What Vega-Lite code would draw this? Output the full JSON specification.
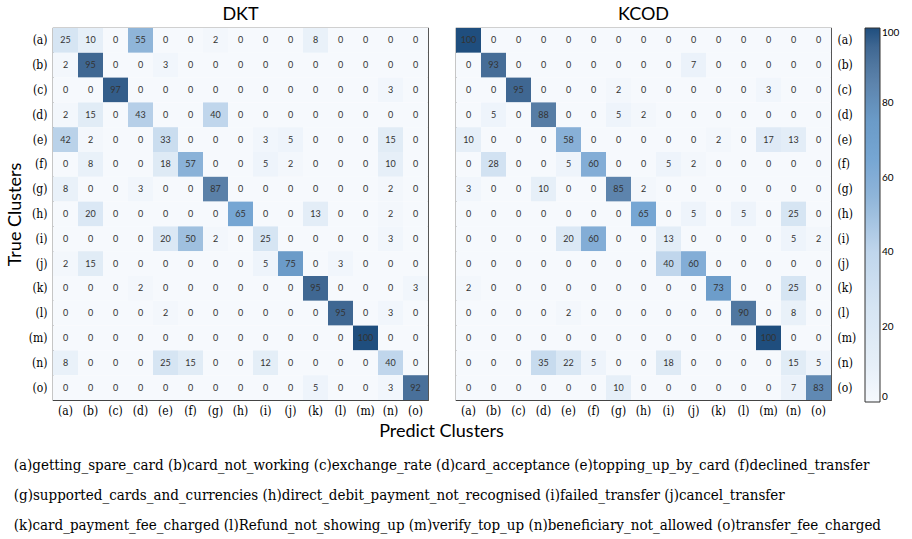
{
"$schema":"https://vega.github.io/schema/vega-lite/v6.json",
"background":"white",
"padding":{"left":5,"top":5,"right":5,"bottom":12},
"bounds":"flush",
"spacing":28,
"title":{"text":["(a)getting_spare_card  (b)card_not_working  (c)exchange_rate  (d)card_acceptance  (e)topping_up_by_card  (f)declined_transfer","(g)supported_cards_and_currencies  (h)direct_debit_payment_not_recognised  (i)failed_transfer  (j)cancel_transfer","(k)card_payment_fee_charged  (l)Refund_not_showing_up  (m)verify_top_up   (n)beneficiary_not_allowed  (o)transfer_fee_charged"],"orient":"bottom","anchor":"start","frame":"bounds","font":"DejaVu Serif Condensed, DejaVu Serif","fontSize":15,"fontWeight":"normal","lineHeight":30,"offset":17,"dx":8,"color":"black"},
"config":{"view":{"stroke":"#444","strokeWidth":1.2},"axis":{"grid":false,"ticks":false,"domain":false,"labelFont":"DejaVu Serif Condensed, DejaVu Serif","labelFontSize":12,"labelColor":"black","titleFont":"Lato","titleFontSize":18,"titleFontWeight":"normal","titleColor":"black"}},
"datasets":{
"dkt":[
{"t":"(a)","p":"(a)","v":25},{"t":"(a)","p":"(b)","v":10},{"t":"(a)","p":"(c)","v":0},{"t":"(a)","p":"(d)","v":55},{"t":"(a)","p":"(e)","v":0},{"t":"(a)","p":"(f)","v":0},{"t":"(a)","p":"(g)","v":2},{"t":"(a)","p":"(h)","v":0},{"t":"(a)","p":"(i)","v":0},{"t":"(a)","p":"(j)","v":0},{"t":"(a)","p":"(k)","v":8},{"t":"(a)","p":"(l)","v":0},{"t":"(a)","p":"(m)","v":0},{"t":"(a)","p":"(n)","v":0},{"t":"(a)","p":"(o)","v":0},
{"t":"(b)","p":"(a)","v":2},{"t":"(b)","p":"(b)","v":95},{"t":"(b)","p":"(c)","v":0},{"t":"(b)","p":"(d)","v":0},{"t":"(b)","p":"(e)","v":3},{"t":"(b)","p":"(f)","v":0},{"t":"(b)","p":"(g)","v":0},{"t":"(b)","p":"(h)","v":0},{"t":"(b)","p":"(i)","v":0},{"t":"(b)","p":"(j)","v":0},{"t":"(b)","p":"(k)","v":0},{"t":"(b)","p":"(l)","v":0},{"t":"(b)","p":"(m)","v":0},{"t":"(b)","p":"(n)","v":0},{"t":"(b)","p":"(o)","v":0},
{"t":"(c)","p":"(a)","v":0},{"t":"(c)","p":"(b)","v":0},{"t":"(c)","p":"(c)","v":97},{"t":"(c)","p":"(d)","v":0},{"t":"(c)","p":"(e)","v":0},{"t":"(c)","p":"(f)","v":0},{"t":"(c)","p":"(g)","v":0},{"t":"(c)","p":"(h)","v":0},{"t":"(c)","p":"(i)","v":0},{"t":"(c)","p":"(j)","v":0},{"t":"(c)","p":"(k)","v":0},{"t":"(c)","p":"(l)","v":0},{"t":"(c)","p":"(m)","v":0},{"t":"(c)","p":"(n)","v":3},{"t":"(c)","p":"(o)","v":0},
{"t":"(d)","p":"(a)","v":2},{"t":"(d)","p":"(b)","v":15},{"t":"(d)","p":"(c)","v":0},{"t":"(d)","p":"(d)","v":43},{"t":"(d)","p":"(e)","v":0},{"t":"(d)","p":"(f)","v":0},{"t":"(d)","p":"(g)","v":40},{"t":"(d)","p":"(h)","v":0},{"t":"(d)","p":"(i)","v":0},{"t":"(d)","p":"(j)","v":0},{"t":"(d)","p":"(k)","v":0},{"t":"(d)","p":"(l)","v":0},{"t":"(d)","p":"(m)","v":0},{"t":"(d)","p":"(n)","v":0},{"t":"(d)","p":"(o)","v":0},
{"t":"(e)","p":"(a)","v":42},{"t":"(e)","p":"(b)","v":2},{"t":"(e)","p":"(c)","v":0},{"t":"(e)","p":"(d)","v":0},{"t":"(e)","p":"(e)","v":33},{"t":"(e)","p":"(f)","v":0},{"t":"(e)","p":"(g)","v":0},{"t":"(e)","p":"(h)","v":0},{"t":"(e)","p":"(i)","v":3},{"t":"(e)","p":"(j)","v":5},{"t":"(e)","p":"(k)","v":0},{"t":"(e)","p":"(l)","v":0},{"t":"(e)","p":"(m)","v":0},{"t":"(e)","p":"(n)","v":15},{"t":"(e)","p":"(o)","v":0},
{"t":"(f)","p":"(a)","v":0},{"t":"(f)","p":"(b)","v":8},{"t":"(f)","p":"(c)","v":0},{"t":"(f)","p":"(d)","v":0},{"t":"(f)","p":"(e)","v":18},{"t":"(f)","p":"(f)","v":57},{"t":"(f)","p":"(g)","v":0},{"t":"(f)","p":"(h)","v":0},{"t":"(f)","p":"(i)","v":5},{"t":"(f)","p":"(j)","v":2},{"t":"(f)","p":"(k)","v":0},{"t":"(f)","p":"(l)","v":0},{"t":"(f)","p":"(m)","v":0},{"t":"(f)","p":"(n)","v":10},{"t":"(f)","p":"(o)","v":0},
{"t":"(g)","p":"(a)","v":8},{"t":"(g)","p":"(b)","v":0},{"t":"(g)","p":"(c)","v":0},{"t":"(g)","p":"(d)","v":3},{"t":"(g)","p":"(e)","v":0},{"t":"(g)","p":"(f)","v":0},{"t":"(g)","p":"(g)","v":87},{"t":"(g)","p":"(h)","v":0},{"t":"(g)","p":"(i)","v":0},{"t":"(g)","p":"(j)","v":0},{"t":"(g)","p":"(k)","v":0},{"t":"(g)","p":"(l)","v":0},{"t":"(g)","p":"(m)","v":0},{"t":"(g)","p":"(n)","v":2},{"t":"(g)","p":"(o)","v":0},
{"t":"(h)","p":"(a)","v":0},{"t":"(h)","p":"(b)","v":20},{"t":"(h)","p":"(c)","v":0},{"t":"(h)","p":"(d)","v":0},{"t":"(h)","p":"(e)","v":0},{"t":"(h)","p":"(f)","v":0},{"t":"(h)","p":"(g)","v":0},{"t":"(h)","p":"(h)","v":65},{"t":"(h)","p":"(i)","v":0},{"t":"(h)","p":"(j)","v":0},{"t":"(h)","p":"(k)","v":13},{"t":"(h)","p":"(l)","v":0},{"t":"(h)","p":"(m)","v":0},{"t":"(h)","p":"(n)","v":2},{"t":"(h)","p":"(o)","v":0},
{"t":"(i)","p":"(a)","v":0},{"t":"(i)","p":"(b)","v":0},{"t":"(i)","p":"(c)","v":0},{"t":"(i)","p":"(d)","v":0},{"t":"(i)","p":"(e)","v":20},{"t":"(i)","p":"(f)","v":50},{"t":"(i)","p":"(g)","v":2},{"t":"(i)","p":"(h)","v":0},{"t":"(i)","p":"(i)","v":25},{"t":"(i)","p":"(j)","v":0},{"t":"(i)","p":"(k)","v":0},{"t":"(i)","p":"(l)","v":0},{"t":"(i)","p":"(m)","v":0},{"t":"(i)","p":"(n)","v":3},{"t":"(i)","p":"(o)","v":0},
{"t":"(j)","p":"(a)","v":2},{"t":"(j)","p":"(b)","v":15},{"t":"(j)","p":"(c)","v":0},{"t":"(j)","p":"(d)","v":0},{"t":"(j)","p":"(e)","v":0},{"t":"(j)","p":"(f)","v":0},{"t":"(j)","p":"(g)","v":0},{"t":"(j)","p":"(h)","v":0},{"t":"(j)","p":"(i)","v":5},{"t":"(j)","p":"(j)","v":75},{"t":"(j)","p":"(k)","v":0},{"t":"(j)","p":"(l)","v":3},{"t":"(j)","p":"(m)","v":0},{"t":"(j)","p":"(n)","v":0},{"t":"(j)","p":"(o)","v":0},
{"t":"(k)","p":"(a)","v":0},{"t":"(k)","p":"(b)","v":0},{"t":"(k)","p":"(c)","v":0},{"t":"(k)","p":"(d)","v":2},{"t":"(k)","p":"(e)","v":0},{"t":"(k)","p":"(f)","v":0},{"t":"(k)","p":"(g)","v":0},{"t":"(k)","p":"(h)","v":0},{"t":"(k)","p":"(i)","v":0},{"t":"(k)","p":"(j)","v":0},{"t":"(k)","p":"(k)","v":95},{"t":"(k)","p":"(l)","v":0},{"t":"(k)","p":"(m)","v":0},{"t":"(k)","p":"(n)","v":0},{"t":"(k)","p":"(o)","v":3},
{"t":"(l)","p":"(a)","v":0},{"t":"(l)","p":"(b)","v":0},{"t":"(l)","p":"(c)","v":0},{"t":"(l)","p":"(d)","v":0},{"t":"(l)","p":"(e)","v":2},{"t":"(l)","p":"(f)","v":0},{"t":"(l)","p":"(g)","v":0},{"t":"(l)","p":"(h)","v":0},{"t":"(l)","p":"(i)","v":0},{"t":"(l)","p":"(j)","v":0},{"t":"(l)","p":"(k)","v":0},{"t":"(l)","p":"(l)","v":95},{"t":"(l)","p":"(m)","v":0},{"t":"(l)","p":"(n)","v":3},{"t":"(l)","p":"(o)","v":0},
{"t":"(m)","p":"(a)","v":0},{"t":"(m)","p":"(b)","v":0},{"t":"(m)","p":"(c)","v":0},{"t":"(m)","p":"(d)","v":0},{"t":"(m)","p":"(e)","v":0},{"t":"(m)","p":"(f)","v":0},{"t":"(m)","p":"(g)","v":0},{"t":"(m)","p":"(h)","v":0},{"t":"(m)","p":"(i)","v":0},{"t":"(m)","p":"(j)","v":0},{"t":"(m)","p":"(k)","v":0},{"t":"(m)","p":"(l)","v":0},{"t":"(m)","p":"(m)","v":100},{"t":"(m)","p":"(n)","v":0},{"t":"(m)","p":"(o)","v":0},
{"t":"(n)","p":"(a)","v":8},{"t":"(n)","p":"(b)","v":0},{"t":"(n)","p":"(c)","v":0},{"t":"(n)","p":"(d)","v":0},{"t":"(n)","p":"(e)","v":25},{"t":"(n)","p":"(f)","v":15},{"t":"(n)","p":"(g)","v":0},{"t":"(n)","p":"(h)","v":0},{"t":"(n)","p":"(i)","v":12},{"t":"(n)","p":"(j)","v":0},{"t":"(n)","p":"(k)","v":0},{"t":"(n)","p":"(l)","v":0},{"t":"(n)","p":"(m)","v":0},{"t":"(n)","p":"(n)","v":40},{"t":"(n)","p":"(o)","v":0},
{"t":"(o)","p":"(a)","v":0},{"t":"(o)","p":"(b)","v":0},{"t":"(o)","p":"(c)","v":0},{"t":"(o)","p":"(d)","v":0},{"t":"(o)","p":"(e)","v":0},{"t":"(o)","p":"(f)","v":0},{"t":"(o)","p":"(g)","v":0},{"t":"(o)","p":"(h)","v":0},{"t":"(o)","p":"(i)","v":0},{"t":"(o)","p":"(j)","v":0},{"t":"(o)","p":"(k)","v":5},{"t":"(o)","p":"(l)","v":0},{"t":"(o)","p":"(m)","v":0},{"t":"(o)","p":"(n)","v":3},{"t":"(o)","p":"(o)","v":92}
],
"kcod":[
{"t":"(a)","p":"(a)","v":100},{"t":"(a)","p":"(b)","v":0},{"t":"(a)","p":"(c)","v":0},{"t":"(a)","p":"(d)","v":0},{"t":"(a)","p":"(e)","v":0},{"t":"(a)","p":"(f)","v":0},{"t":"(a)","p":"(g)","v":0},{"t":"(a)","p":"(h)","v":0},{"t":"(a)","p":"(i)","v":0},{"t":"(a)","p":"(j)","v":0},{"t":"(a)","p":"(k)","v":0},{"t":"(a)","p":"(l)","v":0},{"t":"(a)","p":"(m)","v":0},{"t":"(a)","p":"(n)","v":0},{"t":"(a)","p":"(o)","v":0},
{"t":"(b)","p":"(a)","v":0},{"t":"(b)","p":"(b)","v":93},{"t":"(b)","p":"(c)","v":0},{"t":"(b)","p":"(d)","v":0},{"t":"(b)","p":"(e)","v":0},{"t":"(b)","p":"(f)","v":0},{"t":"(b)","p":"(g)","v":0},{"t":"(b)","p":"(h)","v":0},{"t":"(b)","p":"(i)","v":0},{"t":"(b)","p":"(j)","v":7},{"t":"(b)","p":"(k)","v":0},{"t":"(b)","p":"(l)","v":0},{"t":"(b)","p":"(m)","v":0},{"t":"(b)","p":"(n)","v":0},{"t":"(b)","p":"(o)","v":0},
{"t":"(c)","p":"(a)","v":0},{"t":"(c)","p":"(b)","v":0},{"t":"(c)","p":"(c)","v":95},{"t":"(c)","p":"(d)","v":0},{"t":"(c)","p":"(e)","v":0},{"t":"(c)","p":"(f)","v":0},{"t":"(c)","p":"(g)","v":2},{"t":"(c)","p":"(h)","v":0},{"t":"(c)","p":"(i)","v":0},{"t":"(c)","p":"(j)","v":0},{"t":"(c)","p":"(k)","v":0},{"t":"(c)","p":"(l)","v":0},{"t":"(c)","p":"(m)","v":3},{"t":"(c)","p":"(n)","v":0},{"t":"(c)","p":"(o)","v":0},
{"t":"(d)","p":"(a)","v":0},{"t":"(d)","p":"(b)","v":5},{"t":"(d)","p":"(c)","v":0},{"t":"(d)","p":"(d)","v":88},{"t":"(d)","p":"(e)","v":0},{"t":"(d)","p":"(f)","v":0},{"t":"(d)","p":"(g)","v":5},{"t":"(d)","p":"(h)","v":2},{"t":"(d)","p":"(i)","v":0},{"t":"(d)","p":"(j)","v":0},{"t":"(d)","p":"(k)","v":0},{"t":"(d)","p":"(l)","v":0},{"t":"(d)","p":"(m)","v":0},{"t":"(d)","p":"(n)","v":0},{"t":"(d)","p":"(o)","v":0},
{"t":"(e)","p":"(a)","v":10},{"t":"(e)","p":"(b)","v":0},{"t":"(e)","p":"(c)","v":0},{"t":"(e)","p":"(d)","v":0},{"t":"(e)","p":"(e)","v":58},{"t":"(e)","p":"(f)","v":0},{"t":"(e)","p":"(g)","v":0},{"t":"(e)","p":"(h)","v":0},{"t":"(e)","p":"(i)","v":0},{"t":"(e)","p":"(j)","v":0},{"t":"(e)","p":"(k)","v":2},{"t":"(e)","p":"(l)","v":0},{"t":"(e)","p":"(m)","v":17},{"t":"(e)","p":"(n)","v":13},{"t":"(e)","p":"(o)","v":0},
{"t":"(f)","p":"(a)","v":0},{"t":"(f)","p":"(b)","v":28},{"t":"(f)","p":"(c)","v":0},{"t":"(f)","p":"(d)","v":0},{"t":"(f)","p":"(e)","v":5},{"t":"(f)","p":"(f)","v":60},{"t":"(f)","p":"(g)","v":0},{"t":"(f)","p":"(h)","v":0},{"t":"(f)","p":"(i)","v":5},{"t":"(f)","p":"(j)","v":2},{"t":"(f)","p":"(k)","v":0},{"t":"(f)","p":"(l)","v":0},{"t":"(f)","p":"(m)","v":0},{"t":"(f)","p":"(n)","v":0},{"t":"(f)","p":"(o)","v":0},
{"t":"(g)","p":"(a)","v":3},{"t":"(g)","p":"(b)","v":0},{"t":"(g)","p":"(c)","v":0},{"t":"(g)","p":"(d)","v":10},{"t":"(g)","p":"(e)","v":0},{"t":"(g)","p":"(f)","v":0},{"t":"(g)","p":"(g)","v":85},{"t":"(g)","p":"(h)","v":2},{"t":"(g)","p":"(i)","v":0},{"t":"(g)","p":"(j)","v":0},{"t":"(g)","p":"(k)","v":0},{"t":"(g)","p":"(l)","v":0},{"t":"(g)","p":"(m)","v":0},{"t":"(g)","p":"(n)","v":0},{"t":"(g)","p":"(o)","v":0},
{"t":"(h)","p":"(a)","v":0},{"t":"(h)","p":"(b)","v":0},{"t":"(h)","p":"(c)","v":0},{"t":"(h)","p":"(d)","v":0},{"t":"(h)","p":"(e)","v":0},{"t":"(h)","p":"(f)","v":0},{"t":"(h)","p":"(g)","v":0},{"t":"(h)","p":"(h)","v":65},{"t":"(h)","p":"(i)","v":0},{"t":"(h)","p":"(j)","v":5},{"t":"(h)","p":"(k)","v":0},{"t":"(h)","p":"(l)","v":5},{"t":"(h)","p":"(m)","v":0},{"t":"(h)","p":"(n)","v":25},{"t":"(h)","p":"(o)","v":0},
{"t":"(i)","p":"(a)","v":0},{"t":"(i)","p":"(b)","v":0},{"t":"(i)","p":"(c)","v":0},{"t":"(i)","p":"(d)","v":0},{"t":"(i)","p":"(e)","v":20},{"t":"(i)","p":"(f)","v":60},{"t":"(i)","p":"(g)","v":0},{"t":"(i)","p":"(h)","v":0},{"t":"(i)","p":"(i)","v":13},{"t":"(i)","p":"(j)","v":0},{"t":"(i)","p":"(k)","v":0},{"t":"(i)","p":"(l)","v":0},{"t":"(i)","p":"(m)","v":0},{"t":"(i)","p":"(n)","v":5},{"t":"(i)","p":"(o)","v":2},
{"t":"(j)","p":"(a)","v":0},{"t":"(j)","p":"(b)","v":0},{"t":"(j)","p":"(c)","v":0},{"t":"(j)","p":"(d)","v":0},{"t":"(j)","p":"(e)","v":0},{"t":"(j)","p":"(f)","v":0},{"t":"(j)","p":"(g)","v":0},{"t":"(j)","p":"(h)","v":0},{"t":"(j)","p":"(i)","v":40},{"t":"(j)","p":"(j)","v":60},{"t":"(j)","p":"(k)","v":0},{"t":"(j)","p":"(l)","v":0},{"t":"(j)","p":"(m)","v":0},{"t":"(j)","p":"(n)","v":0},{"t":"(j)","p":"(o)","v":0},
{"t":"(k)","p":"(a)","v":2},{"t":"(k)","p":"(b)","v":0},{"t":"(k)","p":"(c)","v":0},{"t":"(k)","p":"(d)","v":0},{"t":"(k)","p":"(e)","v":0},{"t":"(k)","p":"(f)","v":0},{"t":"(k)","p":"(g)","v":0},{"t":"(k)","p":"(h)","v":0},{"t":"(k)","p":"(i)","v":0},{"t":"(k)","p":"(j)","v":0},{"t":"(k)","p":"(k)","v":73},{"t":"(k)","p":"(l)","v":0},{"t":"(k)","p":"(m)","v":0},{"t":"(k)","p":"(n)","v":25},{"t":"(k)","p":"(o)","v":0},
{"t":"(l)","p":"(a)","v":0},{"t":"(l)","p":"(b)","v":0},{"t":"(l)","p":"(c)","v":0},{"t":"(l)","p":"(d)","v":0},{"t":"(l)","p":"(e)","v":2},{"t":"(l)","p":"(f)","v":0},{"t":"(l)","p":"(g)","v":0},{"t":"(l)","p":"(h)","v":0},{"t":"(l)","p":"(i)","v":0},{"t":"(l)","p":"(j)","v":0},{"t":"(l)","p":"(k)","v":0},{"t":"(l)","p":"(l)","v":90},{"t":"(l)","p":"(m)","v":0},{"t":"(l)","p":"(n)","v":8},{"t":"(l)","p":"(o)","v":0},
{"t":"(m)","p":"(a)","v":0},{"t":"(m)","p":"(b)","v":0},{"t":"(m)","p":"(c)","v":0},{"t":"(m)","p":"(d)","v":0},{"t":"(m)","p":"(e)","v":0},{"t":"(m)","p":"(f)","v":0},{"t":"(m)","p":"(g)","v":0},{"t":"(m)","p":"(h)","v":0},{"t":"(m)","p":"(i)","v":0},{"t":"(m)","p":"(j)","v":0},{"t":"(m)","p":"(k)","v":0},{"t":"(m)","p":"(l)","v":0},{"t":"(m)","p":"(m)","v":100},{"t":"(m)","p":"(n)","v":0},{"t":"(m)","p":"(o)","v":0},
{"t":"(n)","p":"(a)","v":0},{"t":"(n)","p":"(b)","v":0},{"t":"(n)","p":"(c)","v":0},{"t":"(n)","p":"(d)","v":35},{"t":"(n)","p":"(e)","v":22},{"t":"(n)","p":"(f)","v":5},{"t":"(n)","p":"(g)","v":0},{"t":"(n)","p":"(h)","v":0},{"t":"(n)","p":"(i)","v":18},{"t":"(n)","p":"(j)","v":0},{"t":"(n)","p":"(k)","v":0},{"t":"(n)","p":"(l)","v":0},{"t":"(n)","p":"(m)","v":0},{"t":"(n)","p":"(n)","v":15},{"t":"(n)","p":"(o)","v":5},
{"t":"(o)","p":"(a)","v":0},{"t":"(o)","p":"(b)","v":0},{"t":"(o)","p":"(c)","v":0},{"t":"(o)","p":"(d)","v":0},{"t":"(o)","p":"(e)","v":0},{"t":"(o)","p":"(f)","v":0},{"t":"(o)","p":"(g)","v":10},{"t":"(o)","p":"(h)","v":0},{"t":"(o)","p":"(i)","v":0},{"t":"(o)","p":"(j)","v":0},{"t":"(o)","p":"(k)","v":0},{"t":"(o)","p":"(l)","v":0},{"t":"(o)","p":"(m)","v":0},{"t":"(o)","p":"(n)","v":7},{"t":"(o)","p":"(o)","v":83}
]},
"hconcat":[
{"width":375,"height":372,"data":{"name":"dkt"},
 "title":{"text":"DKT","font":"Lato","fontSize":18,"fontWeight":"normal","anchor":"middle","offset":4,"color":"black"},
 "encoding":{
  "x":{"field":"p","type":"nominal","scale":{"paddingInner":0,"paddingOuter":0},"axis":{"orient":"bottom","labelAngle":0,"labelPadding":5,"title":"Predict Clusters","titleX":388,"titlePadding":6}},
  "y":{"field":"t","type":"nominal","scale":{"paddingInner":0,"paddingOuter":0},"axis":{"orient":"left","labelPadding":6,"title":"True Clusters","titlePadding":4}}},
 "layer":[
  {"mark":{"type":"rect"},"encoding":{"color":{"field":"v","type":"quantitative","scale":{"type":"linear","domain":[0,10,25,40,55,65,75,87,95,100],"range":["#f6f9fd","#e6eff8","#d6e5f3","#c0d6ec","#8fb5d9","#76a6d3","#6b9bc8","#5a80a8","#3f6792","#1f4e7e"]},"legend":{"title":null,"orient":"right","direction":"vertical","gradientLength":374,"gradientThickness":15,"values":[0,20,40,60,80,100],"labelFont":"Lato","labelFontSize":10,"labelOverlap":false,"offset":8,"gradientStrokeColor":"#333","gradientStrokeWidth":1}}}},
  {"mark":{"type":"text","font":"Lato","fontSize":9,"color":"#333"},"encoding":{"text":{"field":"v","type":"quantitative"}}}
 ]},
{"width":375,"height":372,"data":{"name":"kcod"},
 "title":{"text":"KCOD","font":"Lato","fontSize":18,"fontWeight":"normal","anchor":"middle","offset":4,"color":"black"},
 "encoding":{
  "x":{"field":"p","type":"nominal","scale":{"paddingInner":0,"paddingOuter":0},"axis":{"orient":"bottom","labelAngle":0,"labelPadding":5,"title":null}},
  "y":{"field":"t","type":"nominal","scale":{"paddingInner":0,"paddingOuter":0},"axis":{"orient":"right","labelPadding":6,"title":null}}},
 "layer":[
  {"mark":{"type":"rect"},"encoding":{"color":{"field":"v","type":"quantitative","scale":{"type":"linear","domain":[0,10,25,40,55,65,75,87,95,100],"range":["#f6f9fd","#e6eff8","#d6e5f3","#c0d6ec","#8fb5d9","#76a6d3","#6b9bc8","#5a80a8","#3f6792","#1f4e7e"]},"legend":{"title":null,"orient":"right","direction":"vertical","gradientLength":374,"gradientThickness":15,"values":[0,20,40,60,80,100],"labelFont":"Lato","labelFontSize":10,"labelOverlap":false,"offset":8,"gradientStrokeColor":"#333","gradientStrokeWidth":1}}}},
  {"mark":{"type":"text","font":"Lato","fontSize":9,"color":"#333"},"encoding":{"text":{"field":"v","type":"quantitative"}}}
 ]}
],
"resolve":{"scale":{"color":"shared"}}
}
